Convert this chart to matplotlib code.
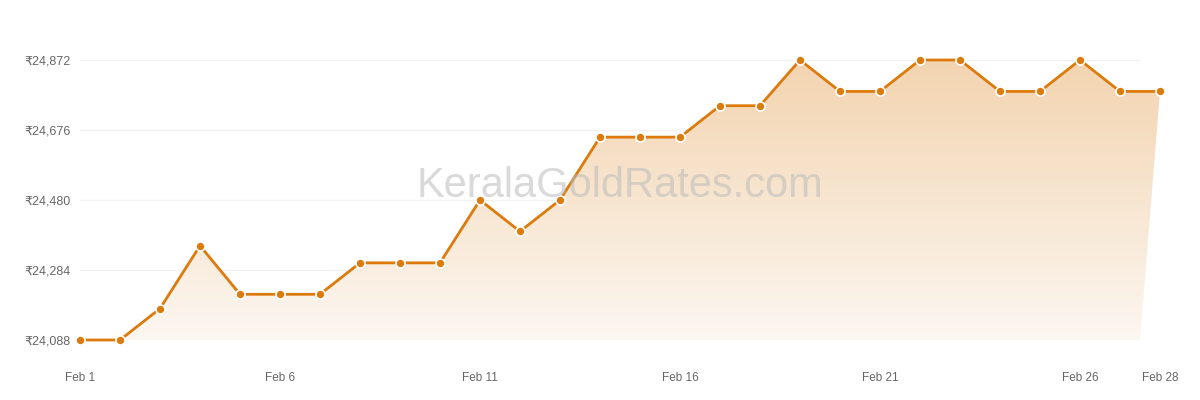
import numpy as np
import matplotlib.pyplot as plt
from matplotlib.patches import Polygon
from matplotlib.colors import LinearSegmentedColormap

# February gold rate data (₹ per 8g)
days = list(range(1, 29))
prices = [24088, 24088, 24176, 24352, 24216, 24216, 24216, 24304, 24304, 24304,
          24480, 24392, 24480, 24656, 24656, 24656, 24744, 24744, 24872, 24784,
          24784, 24872, 24872, 24784, 24784, 24872, 24784, 24784]
xticks = [1, 6, 11, 16, 21, 26, 28]
xlabels = ['Feb 1', 'Feb 6', 'Feb 11', 'Feb 16', 'Feb 21', 'Feb 26', 'Feb 28']
yticks = [24088, 24284, 24480, 24676, 24872]

line_color = '#dc7a0c'

plt.rcParams['font.family'] = ['Liberation Sans', 'DejaVu Sans']
fig = plt.figure(figsize=(12, 4), dpi=100)
ax = fig.add_axes([80 / 1200, 0.15, 1060 / 1200, 0.70])

xmax = 27.5
ymin, ymax = yticks[0], yticks[-1]

# gradient fill under the line
verts = list(zip(days, prices)) + [(xmax, ymin), (days[0], ymin)]
poly = Polygon(verts, closed=True, facecolor='none', edgecolor='none')
ax.add_patch(poly)
cmap = LinearSegmentedColormap.from_list('fade', ['#fcf7f1', '#f3d4b0'])
grad = np.linspace(0, 1, 256).reshape(-1, 1)
im = ax.imshow(grad, cmap=cmap, aspect='auto', origin='lower',
               extent=[days[0], days[-1], ymin, ymax], zorder=1)
im.set_clip_box(fig.bbox)
im.set_clip_path(poly)

ax.plot(days, prices, color=line_color, lw=2.0, marker='o', ms=6.5,
        markerfacecolor=line_color, markeredgecolor='white', markeredgewidth=1.2,
        zorder=3, clip_on=False)

ax.set_yticks(yticks)
ax.set_yticklabels(['₹{:,}'.format(v) for v in yticks])
ax.set_xticks([])
# x labels drawn as annotations so the last one can sit past the plot edge
for x, lbl in zip(xticks, xlabels):
    ax.annotate(lbl, xy=(x, 0), xycoords=('data', 'axes fraction'),
                xytext=(0, -23), textcoords='offset points', ha='center', va='top',
                fontsize=8.5, color='#666666', annotation_clip=False)
ax.set_xlim(days[0], xmax)
ax.set_ylim(ymin, ymax)
ax.tick_params(axis='y', length=0, pad=7, labelsize=9, labelcolor='#666666')
ax.grid(axis='y', color='#f2f2f2', lw=1, zorder=0)
ax.set_axisbelow(True)
for s in ax.spines.values():
    s.set_visible(False)

fig.text(620 / 1200, 1 - 186 / 400, 'KeralaGoldRates.com', ha='center', va='center',
         fontsize=30, color='#bbbbbb', alpha=0.55, zorder=5)

fig.savefig('out.png', dpi=100)
